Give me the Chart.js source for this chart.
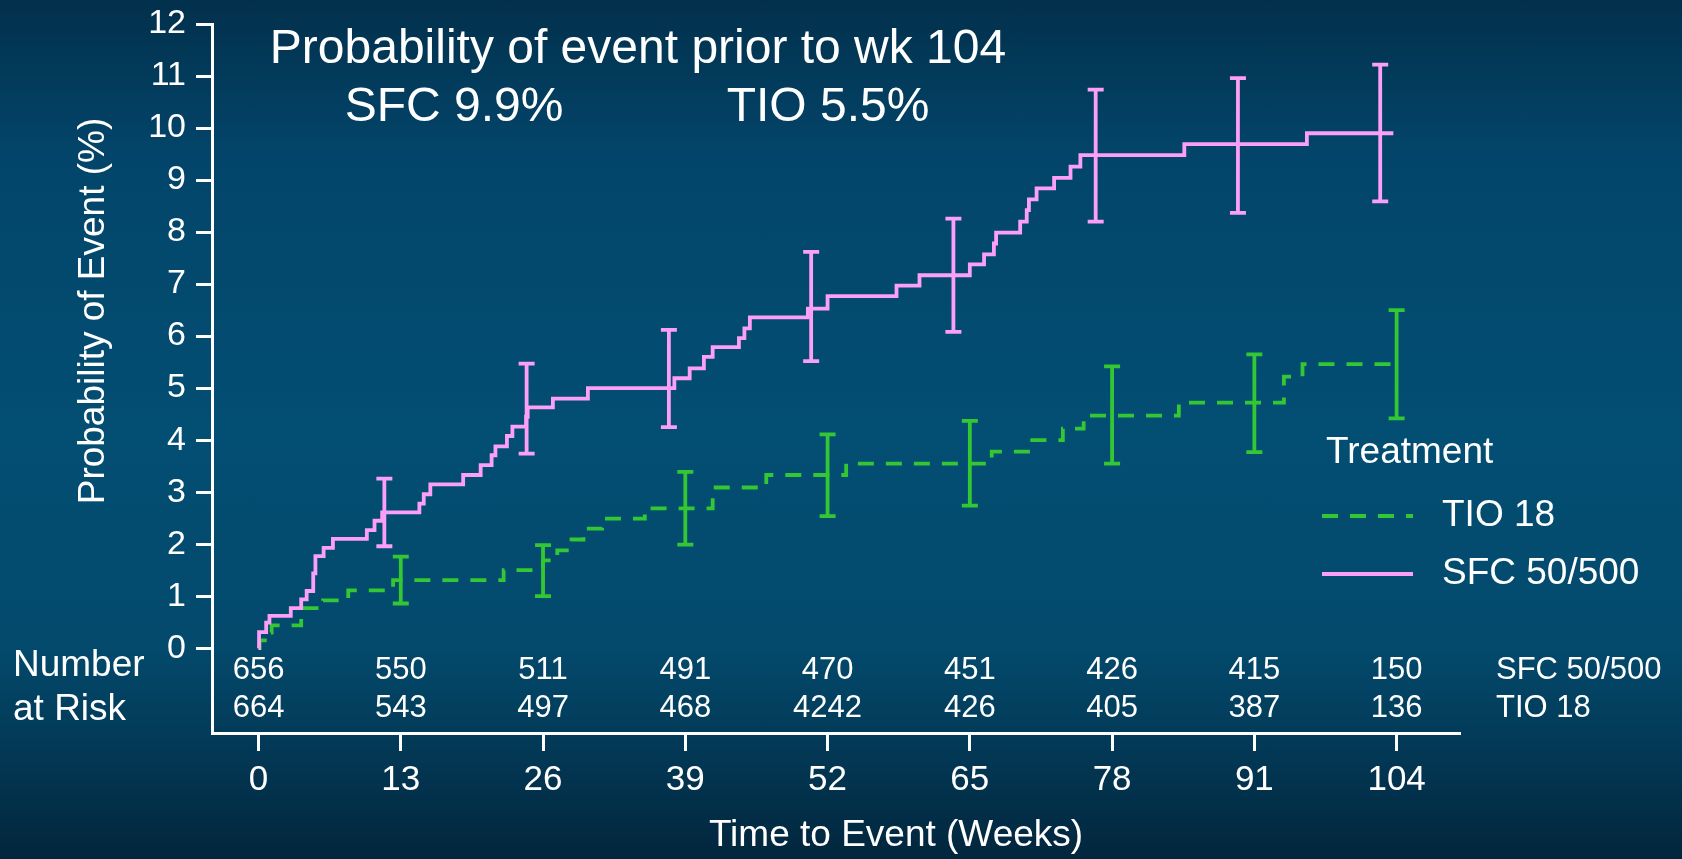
<!DOCTYPE html>
<html lang="en">
<head>
  <meta charset="UTF-8">
  <title>Time to Event</title>
  <script src="https://cdn.jsdelivr.net/npm/chart.js"></script>
  <style>
    html, body { margin: 0; padding: 0; }
    body {
      width: 1682px; height: 859px; overflow: hidden;
      background: linear-gradient(to bottom, #02304c 0%, #03456a 18%, #034e73 50%, #034a6d 75%, #02263d 100%);
    }
    #chart { display: block; }
  </style>
</head>
<body>
<canvas id="chart" width="1682" height="859"></canvas>

<script>
  // Data (weeks, cumulative probability of event in %)
  const sfcWeeks = [0, 0.05, 0.7, 1.0, 2.95, 3.9, 4.4, 5.0, 5.2, 5.95, 6.8, 9.9, 10.6, 11.3, 14.7, 15.1, 15.7, 18.7, 20.3, 21.3, 21.65, 22.7, 23.2, 24.45, 24.6, 26.9, 30.1, 38.0, 39.4, 40.7, 41.5, 43.9, 44.4, 44.9, 50.2, 52.0, 58.3, 60.4, 65.0, 66.3, 67.2, 67.4, 69.6, 70.2, 70.4, 71.1, 72.7, 74.2, 75.1, 84.6, 95.8, 103.7];
  const sfcProb  = [0, 0.31, 0.49, 0.62, 0.77, 0.94, 1.1, 1.44, 1.77, 1.93, 2.1, 2.27, 2.45, 2.61, 2.78, 2.96, 3.15, 3.33, 3.52, 3.71, 3.88, 4.08, 4.26, 4.45, 4.63, 4.8, 5.0, 5.19, 5.38, 5.6, 5.79, 5.96, 6.15, 6.36, 6.53, 6.77, 6.97, 7.17, 7.38, 7.57, 7.78, 7.99, 8.2, 8.42, 8.63, 8.84, 9.04, 9.26, 9.48, 9.69, 9.9, 9.9];

  const tioWeeks = [0, 0.1, 1.0, 1.2, 3.9, 5.9, 8.2, 12.3, 22.4, 26.0, 27.3, 28.6, 29.7, 31.4, 35.3, 41.5, 46.4, 53.7, 67.0, 70.7, 73.5, 75.4, 84.1, 93.7, 95.4, 103.7];
  const tioProb  = [0, 0.15, 0.3, 0.44, 0.77, 0.92, 1.11, 1.31, 1.5, 1.69, 1.88, 2.09, 2.3, 2.49, 2.69, 3.09, 3.33, 3.55, 3.78, 4.0, 4.22, 4.47, 4.72, 5.22, 5.46, 5.46];

  // Confidence intervals
  const sfcErrWeeks = [11.5, 24.5, 37.5, 50.5, 63.5, 76.5, 89.5, 102.5];
  const sfcErrLow   = [1.96, 3.74, 4.25, 5.52, 6.08, 8.2, 8.37, 8.59];
  const sfcErrHigh  = [3.26, 5.47, 6.12, 7.62, 8.26, 10.74, 10.96, 11.22];
  const tioErrWeeks = [13, 26, 39, 52, 65, 78, 91, 104];
  const tioErrLow   = [0.86, 1.0, 1.99, 2.54, 2.74, 3.55, 3.77, 4.42];
  const tioErrHigh  = [1.76, 1.98, 3.39, 4.11, 4.37, 5.42, 5.65, 6.5];

  // Axis ticks and number at risk
  const xTicks = [0, 13, 26, 39, 52, 65, 78, 91, 104];
  const yTicks = [0, 1, 2, 3, 4, 5, 6, 7, 8, 9, 10, 11, 12];
  const riskSFC = [656, 550, 511, 491, 470, 451, 426, 415, 150];
  const riskTIO = [664, 543, 497, 468, 4242, 426, 405, 387, 136];

  const PINK = '#fc9ff6';
  const GREEN = '#33c833';
  const FONT = '"Liberation Sans", Arial, sans-serif';

  // error bars + text drawn on top of the chart
  const extrasPlugin = {
    id: 'extras',
    afterDatasetsDraw(chart) {
      const { ctx, scales: { x, y } } = chart;
      const drawBars = (weeks, lows, highs, color) => {
        ctx.save();
        ctx.strokeStyle = color;
        ctx.lineWidth = 3.8;
        weeks.forEach((w, i) => {
          const px = x.getPixelForValue(w);
          const y1 = y.getPixelForValue(lows[i]);
          const y2 = y.getPixelForValue(highs[i]);
          ctx.beginPath();
          ctx.moveTo(px, y1); ctx.lineTo(px, y2);
          ctx.moveTo(px - 8, y1); ctx.lineTo(px + 8, y1);
          ctx.moveTo(px - 8, y2); ctx.lineTo(px + 8, y2);
          ctx.stroke();
        });
        ctx.restore();
      };
      drawBars(sfcErrWeeks, sfcErrLow, sfcErrHigh, PINK);
      drawBars(tioErrWeeks, tioErrLow, tioErrHigh, GREEN);
    },
    afterDraw(chart) {
      const { ctx, scales: { x } } = chart;
      ctx.save();
      ctx.fillStyle = '#fff';
      ctx.textBaseline = 'middle';

      // annotation
      ctx.textAlign = 'center';
      ctx.font = '48px ' + FONT;
      ctx.fillText('Probability of event prior to wk 104', 638, 50);
      ctx.fillText('SFC 9.9%', 454, 108);
      ctx.fillText('TIO 5.5%', 828, 108);

      // number at risk
      ctx.font = '31px ' + FONT;
      xTicks.forEach((w, i) => {
        const px = x.getPixelForValue(w);
        ctx.fillText(String(riskSFC[i]), px, 670);
        ctx.fillText(String(riskTIO[i]), px, 708);
      });
      ctx.textAlign = 'left';
      ctx.fillText('SFC 50/500', 1496, 670);
      ctx.fillText('TIO 18', 1496, 708);
      ctx.font = '37px ' + FONT;
      ctx.fillText('Number', 13, 666);
      ctx.fillText('at Risk', 13, 710);

      // legend
      ctx.font = '37px ' + FONT;
      ctx.fillText('Treatment', 1326, 453);
      ctx.fillText('TIO 18', 1442, 516);
      ctx.fillText('SFC 50/500', 1442, 574);
      ctx.lineWidth = 3.8;
      ctx.strokeStyle = GREEN;
      ctx.setLineDash([16, 12]);
      ctx.beginPath(); ctx.moveTo(1322, 516); ctx.lineTo(1413, 516); ctx.stroke();
      ctx.setLineDash([]);
      ctx.strokeStyle = PINK;
      ctx.beginPath(); ctx.moveTo(1322, 574); ctx.lineTo(1413, 574); ctx.stroke();

      // axis titles
      ctx.textAlign = 'center';
      ctx.fillText('Time to Event (Weeks)', 896, 836);
      ctx.translate(94, 311);
      ctx.rotate(-Math.PI / 2);
      ctx.fillText('Probability of Event (%)', 0, 0);
      ctx.restore();
    }
  };

  new Chart(document.getElementById('chart').getContext('2d'), {
    type: 'line',
    data: {
      datasets: [
        {
          label: 'SFC 50/500',
          data: sfcWeeks.map((w, i) => ({ x: w, y: sfcProb[i] })),
          borderColor: PINK,
          borderWidth: 3.8,
          stepped: true,
          pointRadius: 0,
          fill: false
        },
        {
          label: 'TIO 18',
          data: tioWeeks.map((w, i) => ({ x: w, y: tioProb[i] })),
          borderColor: GREEN,
          borderWidth: 3.8,
          borderDash: [16, 12],
          stepped: true,
          pointRadius: 0,
          fill: false
        }
      ]
    },
    options: {
      responsive: false,
      animation: false,
      devicePixelRatio: 1,
      layout: { padding: { top: 24, right: 223, bottom: 0, left: 0 } },
      plugins: { legend: { display: false }, tooltip: { enabled: false } },
      scales: {
        x: {
          type: 'linear',
          min: -4.25,
          max: 109.7,
          afterBuildTicks: s => { s.ticks = xTicks.map(v => ({ value: v })); },
          afterFit: s => { s.height = 126; },
          grid: { drawOnChartArea: false, drawTicks: true, tickLength: 18, color: '#fff', lineWidth: 3 },
          border: { display: true, color: '#fff', width: 3 },
          ticks: { color: '#fff', font: { size: 35, family: FONT }, padding: 8, maxRotation: 0, autoSkip: false }
        },
        y: {
          type: 'linear',
          min: -1.63,
          max: 12,
          afterBuildTicks: s => { s.ticks = yTicks.map(v => ({ value: v })); },
          afterFit: s => { s.width = 212; s.paddingTop = 0; s.paddingBottom = 0; },
          grid: { drawOnChartArea: false, drawTicks: true, tickLength: 16, color: '#fff', lineWidth: 3 },
          border: { display: true, color: '#fff', width: 3 },
          ticks: { color: '#fff', font: { size: 34, family: FONT }, padding: 10, autoSkip: false }
        }
      }
    },
    plugins: [extrasPlugin]
  });
</script>
</body>
</html>
